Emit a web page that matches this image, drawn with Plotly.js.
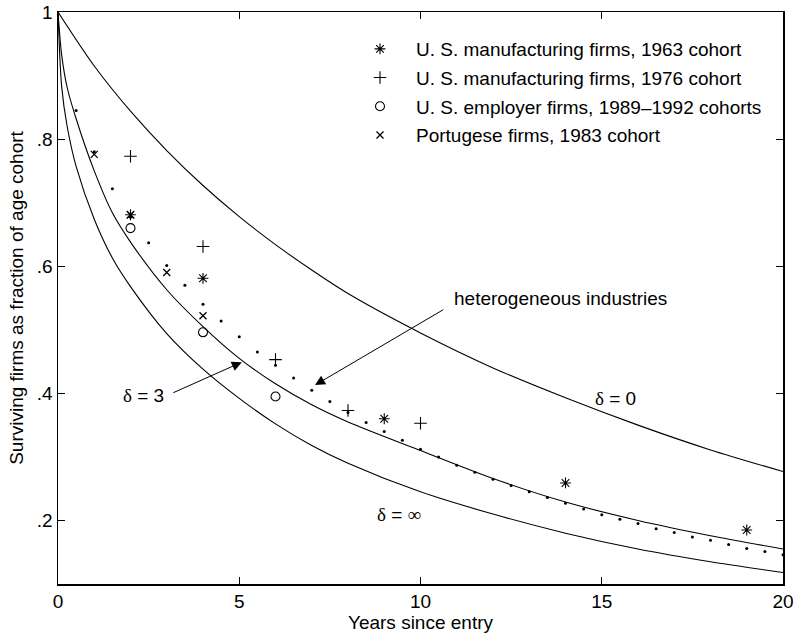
<!DOCTYPE html>
<html>
<head>
<meta charset="utf-8">
<script src="https://cdn.plot.ly/plotly-3.0.1.min.js"></script>
<style>html,body{margin:0;padding:0;background:#fff;}</style>
</head>
<body>
<div id="chart" style="width:795px;height:633px;"></div>
<script>
// Theoretical survival curves
const tZero = [0, 1, 2, 3, 4, 5, 6, 7, 8, 10, 12, 14, 16, 18, 20];
const delta0 = [1, 0.915, 0.844, 0.782, 0.727, 0.678, 0.634, 0.594, 0.557, 0.495, 0.440, 0.393, 0.350, 0.311, 0.277];
const tCurve = [0, 0.1, 0.25, 0.5, 1, 1.5, 2, 3, 4, 5, 6, 7, 8, 10, 12, 14, 16, 18, 20];
const delta3 = [1, 0.933, 0.882, 0.832, 0.750, 0.684, 0.638, 0.563, 0.505, 0.455, 0.415, 0.382, 0.355, 0.310, 0.266, 0.229, 0.200, 0.176, 0.155];
const deltaInf = [1, 0.883, 0.821, 0.757, 0.674, 0.613, 0.568, 0.494, 0.438, 0.392, 0.352, 0.318, 0.290, 0.245, 0.210, 0.180, 0.155, 0.135, 0.118];

// Heterogeneous industries (dotted)
const tHet = [0.5, 1, 1.5, 2, 2.5, 3, 3.5, 4, 4.5, 5, 5.5, 6, 6.5, 7, 7.5, 8, 8.5, 9, 9.5, 10,
              10.5, 11, 11.5, 12, 12.5, 13, 13.5, 14, 14.5, 15, 15.5, 16, 16.5, 17, 17.5, 18, 18.5, 19, 19.5, 20];
const het = [0.845, 0.780, 0.722, 0.677, 0.637, 0.601, 0.570, 0.540, 0.514, 0.489, 0.465, 0.444, 0.424, 0.405, 0.387, 0.370, 0.354, 0.340, 0.326, 0.312,
             0.300, 0.287, 0.276, 0.265, 0.255, 0.245, 0.236, 0.227, 0.218, 0.209, 0.202, 0.195, 0.187, 0.181, 0.174, 0.169, 0.162, 0.156, 0.151, 0.146];

// Data series
const t1963 = [2, 4, 9, 14, 19];
const v1963 = [0.681, 0.581, 0.360, 0.259, 0.185];
const t1976 = [2, 4, 6, 8, 10];
const v1976 = [0.773, 0.631, 0.453, 0.373, 0.353];
const tEmp = [2, 4, 6];
const vEmp = [0.660, 0.496, 0.395];
const tPor = [1, 2, 3, 4];
const vPor = [0.776, 0.681, 0.590, 0.522];

const seriesNames = [
  "U. S. manufacturing firms, 1963 cohort",
  "U. S. manufacturing firms, 1976 cohort",
  "U. S. employer firms, 1989\u20131992 cohorts",
  "Portugese firms, 1983 cohort"
];

const xTicks = [0, 5, 10, 15, 20];
const yTicks = [0.2, 0.4, 0.6, 0.8, 1];
const yTickText = [".2", ".4", ".6", ".8", "1"];

const FONT = "Liberation Sans, Arial, Helvetica, sans-serif";
const SERIF = "Liberation Serif, Times New Roman, serif";
const FS = 19;
const lineStyle = {color: "#000", width: 1.1, shape: "spline", smoothing: 0.8};

const traces = [
  {x: tZero, y: delta0, mode: "lines", line: lineStyle, showlegend: false, hoverinfo: "skip"},
  {x: tCurve, y: delta3, mode: "lines", line: lineStyle, showlegend: false, hoverinfo: "skip"},
  {x: tCurve, y: deltaInf, mode: "lines", line: lineStyle, showlegend: false, hoverinfo: "skip"},
  {x: tHet, y: het, mode: "markers", marker: {symbol: "circle", size: 3, color: "#000"}, showlegend: false},
  {x: t1963, y: v1963, mode: "markers", name: seriesNames[0], legendgroup: "a",
   marker: {symbol: "asterisk-open", size: 9, color: "#000", line: {color: "#000", width: 1.1}}},
  {x: t1976, y: v1976, mode: "markers", name: seriesNames[1], legendgroup: "b",
   marker: {symbol: "cross-thin-open", size: 9, color: "#000", line: {color: "#000", width: 1.1}}},
  {x: tEmp, y: vEmp, mode: "markers", name: seriesNames[2], legendgroup: "c",
   marker: {symbol: "circle-open", size: 9, color: "#000", line: {color: "#000", width: 1.1}}},
  {x: tPor, y: vPor, mode: "markers", name: seriesNames[3], legendgroup: "d",
   marker: {symbol: "x-thin-open", size: 7, color: "#000", line: {color: "#000", width: 1.3}}}
];

const d = (s) => '<span style="font-family:' + SERIF + '">\u03b4</span> = ' + s;

const layout = {
  width: 795, height: 633,
  margin: {l: 58, r: 12, t: 12, b: 49},
  paper_bgcolor: "#fff", plot_bgcolor: "#fff",
  font: {family: FONT, size: FS, color: "#000"},
  showlegend: true,
  legend: {x: (344 - 58) / 725, y: 1 - (30 - 12) / 572, xanchor: "left", yanchor: "top",
           bgcolor: "rgba(0,0,0,0)", borderwidth: 0, itemwidth: 62, tracegroupgap: 1,
           font: {family: FONT, size: FS, color: "#000"}},
  xaxis: {range: [0, 20], tickvals: xTicks, ticks: "inside", ticklen: 7, tickcolor: "#000",
          showline: true, linecolor: "#000", linewidth: 1.5, mirror: "ticks", showgrid: false, zeroline: false,
          title: {text: "Years since entry", font: {size: FS}, standoff: 3}, tickfont: {size: FS}},
  yaxis: {range: [0.1, 1], tickvals: yTicks, ticktext: yTickText, ticks: "inside", ticklen: 7, tickcolor: "#000",
          showline: true, linecolor: "#000", linewidth: 1.5, mirror: "ticks", showgrid: false, zeroline: false,
          title: {text: "Surviving firms as fraction of age cohort", font: {size: FS}, standoff: 8}, tickfont: {size: FS}},
  annotations: [
    {x: 10.87, y: 0.550, xref: "x", yref: "y", text: "heterogeneous industries", showarrow: false, xanchor: "left", yanchor: "middle"},
    {x: 7.09, y: 0.413, ax: 10.67, ay: 0.533, axref: "x", ayref: "y", xref: "x", yref: "y", text: "",
     showarrow: true, arrowhead: 2, arrowsize: 2, arrowwidth: 1, arrowcolor: "#000"},
    {x: 2.98, y: 0.397, xref: "x", yref: "y", text: d("3"), showarrow: false, xanchor: "right", yanchor: "middle"},
    {x: 5.07, y: 0.449, ax: 3.14, ay: 0.400, axref: "x", ayref: "y", xref: "x", yref: "y", text: "",
     showarrow: true, arrowhead: 2, arrowsize: 2, arrowwidth: 1, arrowcolor: "#000"},
    {x: 15.38, y: 0.392, xref: "x", yref: "y", text: d("0"), showarrow: false, xanchor: "center", yanchor: "middle"},
    {x: 9.41, y: 0.210, xref: "x", yref: "y", text: d('<span style="font-family:' + SERIF + '">\u221e</span>'), showarrow: false, xanchor: "center", yanchor: "middle"}
  ]
};

Plotly.newPlot("chart", traces, layout, {displayModeBar: false, staticPlot: true});
</script>
</body>
</html>
